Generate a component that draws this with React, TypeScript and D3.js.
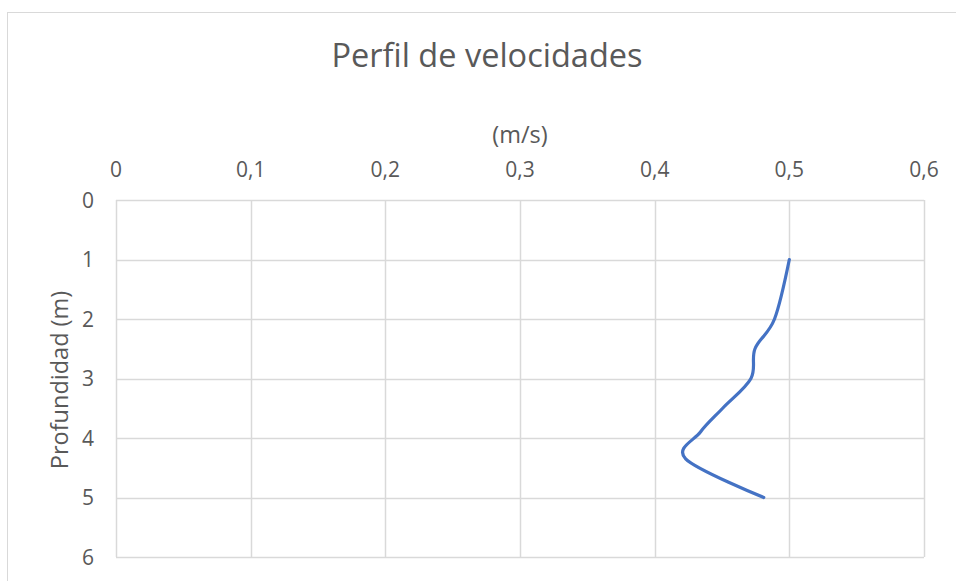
import React from "react";
import * as d3 from "d3";

const velocities = [0.5, 0.489, 0.4745, 0.4715, 0.4505, 0.434, 0.423, 0.481];
const depths = [1, 2, 2.5, 3, 3.5, 3.9, 4.35, 5];
const xTicks = [0, 0.1, 0.2, 0.3, 0.4, 0.5, 0.6];
const yTicks = [0, 1, 2, 3, 4, 5, 6];
const title = "Perfil de velocidades";
const xLabel = "(m/s)";
const yLabel = "Profundidad (m)";

const W = 956;
const H = 581;
const FONT = "'Open Sans', sans-serif";
const TXT = "#595959";
const GRID = "#d9d9d9";

export default function App() {
  const x = d3.scaleLinear().domain([0, 0.6]).range([116, 924]);
  const y = d3.scaleLinear().domain([0, 6]).range([200, 557]);
  const pts: [number, number][] = velocities.map((v, i) => [x(v), y(depths[i])]);
  const line = d3.line().curve(d3.curveCardinal.tension(0))(pts) || "";
  const fmt = (v: number) => String(+v.toFixed(1)).replace(".", ",");

  return (
    <svg
      width={W}
      height={H}
      style={{ position: "absolute", left: 0, top: 0, background: "#fff" }}
    >
      <rect x={0} y={0} width={W} height={H} fill="#fff" />
      <rect x={7.5} y={12.5} width={980} height={620} fill="#fff" stroke={GRID} strokeWidth={1} />
      {yTicks.map((t) => (
        <line key={"gy" + t} x1={x(0)} x2={x(0.6)} y1={Math.round(y(t)) + 0.5} y2={Math.round(y(t)) + 0.5} stroke={GRID} strokeWidth={1.5} />
      ))}
      {xTicks.map((t) => (
        <line key={"gx" + t} x1={Math.round(x(t)) + 0.5} x2={Math.round(x(t)) + 0.5} y1={y(0)} y2={y(6)} stroke={GRID} strokeWidth={1.5} />
      ))}
      <path d={line} fill="none" stroke="#4472C4" strokeWidth={3.2} strokeLinecap="round" strokeLinejoin="round" />
      {xTicks.map((t) => (
        <text key={"tx" + t} x={x(t)} y={177} textAnchor="middle" fontFamily={FONT} fontSize={21} fill={TXT}>
          {fmt(t)}
        </text>
      ))}
      {yTicks.map((t) => (
        <text key={"ty" + t} x={94} y={y(t) + 7.5} textAnchor="end" fontFamily={FONT} fontSize={21} fill={TXT}>
          {fmt(t)}
        </text>
      ))}
      <text x={487} y={67} textAnchor="middle" fontFamily={FONT} fontSize={32.5} fill={TXT}>
        {title}
      </text>
      <text x={520} y={143} textAnchor="middle" fontFamily={FONT} fontSize={23.5} fill={TXT}>
        {xLabel}
      </text>
      <text
        transform={`translate(68, 380) rotate(-90)`}
        textAnchor="middle"
        fontFamily={FONT}
        fontSize={23.5}
        fill={TXT}
      >
        {yLabel}
      </text>
    </svg>
  );
}
